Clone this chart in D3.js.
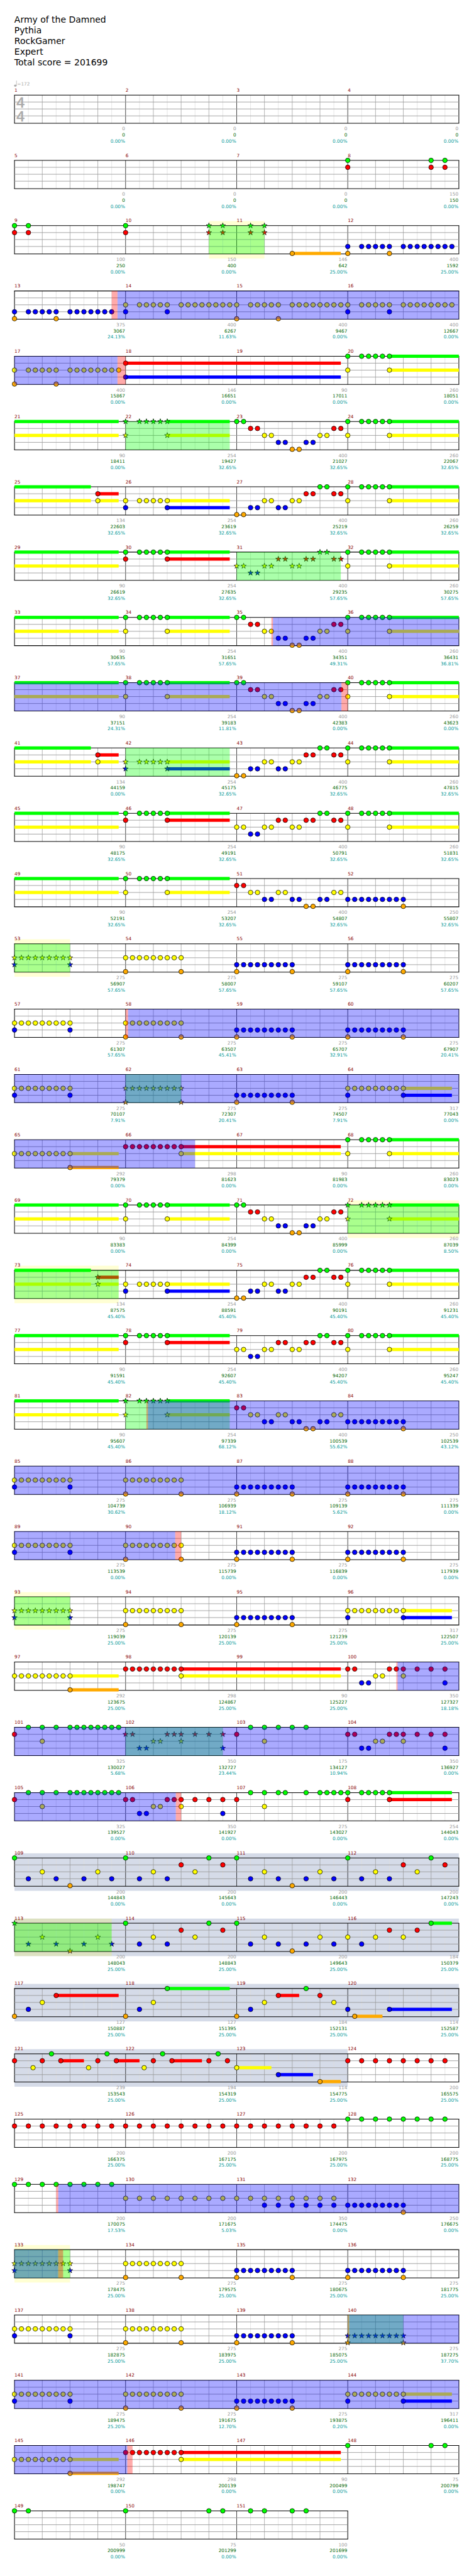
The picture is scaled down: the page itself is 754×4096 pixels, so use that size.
<!DOCTYPE html>
<html>
<head>
<meta charset="utf-8">
<script src="https://cdnjs.cloudflare.com/ajax/libs/d3/7.8.5/d3.min.js"></script>
<style>
html,body{margin:0;padding:0;background:#fff}
svg{display:block}
text{font-family:"DejaVu Sans",sans-serif}
</style>
</head>
<body>
<div id="chart"></div>
<script>
// ---------- text ----------
const titleLines = ["Army of the Damned","Pythia","RockGamer","Expert","Total score = 201699"];
const tempoLabel = "=172";
const timeSignature = ["4","4"];

// ---------- per-measure labels ----------
const measureScores = [
0,0,0,0, 0,0,0,150, 100,150,146,400, 375,400,400,400, 400,146,90,260, 90,254,400,260, 134,254,400,260, 90,254,400,260,
90,254,400,260, 90,254,400,260, 134,254,400,260, 90,254,400,260, 90,254,400,250, 275,275,275,275, 275,275,275,275,
275,275,275,317, 292,298,90,260, 90,254,400,260, 134,254,400,260, 90,254,400,260, 90,254,400,250, 275,275,275,275,
275,275,275,275, 275,275,275,317, 292,298,90,350, 325,350,175,350, 325,350,275,254, 200,200,200,200, 200,200,200,184,
127,127,184,114, 239,194,114,200, 200,200,200,200, 200,200,350,250, 275,275,275,275, 275,275,275,275, 275,275,275,317,
292,298,90,75, 50,75,100];
const cumulativeScores = [
0,0,0,0, 0,0,0,150, 250,400,642,1592, 3067,6267,9467,12667, 15867,16651,17011,18051, 18411,19427,21027,22067,
22603,23619,25219,26259, 26619,27635,29235,30275, 30635,31651,34351,36431, 37151,39183,42383,43623,
44159,45175,46775,47815, 48175,49191,50791,51831, 52191,53207,54807,55807, 56907,58007,59107,60207,
61307,63507,65707,67907, 70107,72307,74507,77043, 79379,81623,81983,83023, 83383,84399,85999,87039,
87575,88591,90191,91231, 91591,92607,94207,95247, 95607,97339,100539,102539, 104739,106939,109139,111339,
113539,115739,116839,117939, 119039,120139,121239,122507, 123675,124867,125227,127327, 130027,132727,134127,136927,
139527,141927,143027,144043, 144843,145643,146443,147243, 148043,148843,149643,150379, 150887,151395,152131,152587,
153543,154319,154775,165575, 166375,167175,167975,168775, 170075,171675,174475,176675, 178475,179575,180675,181775,
182875,183975,185075,187275, 189475,191675,193875,196411, 198747,200139,200499,200799, 200999,201299,201699];
const percentages = [
0,0,0,0, 0,0,0,0, 0,0,25,25, 24.13,11.63,0,0, 0,0,0,0, 0,32.65,32.65,32.65, 32.65,32.65,32.65,32.65,
32.65,32.65,57.65,57.65, 57.65,57.65,49.31,36.81, 24.31,11.81,0,0, 0,32.65,32.65,32.65, 32.65,32.65,32.65,32.65,
32.65,32.65,32.65,32.65, 57.65,57.65,57.65,57.65, 57.65,45.41,32.91,20.41, 7.91,20.41,7.91,0, 0,0,0,0, 0,0,0,8.5,
45.4,45.4,45.4,45.4, 45.4,45.4,45.4,45.4, 45.4,68.12,55.62,43.12, 30.62,18.12,5.62,0, 0,0,0,0, 25,25,25,25,
25,25,25,18.18, 5.68,23.44,10.94,0, 0,0,0,0, 0,0,0,0, 25,25,25,25, 25,25,25,25, 25,25,25,25, 25,25,25,25,
17.53,5.03,0,0, 25,25,25,25, 25,25,25,37.7, 25.2,12.7,0.2,0, 0,0,0,0, 0,0,0];

// ---------- riffs, written as "<sixteenth><lanes>[~<sustain end sixteenth>]" ----------
const hold31 = "0gy 2g 3g 4g 5g 6gy~31";
const hold27 = "0gy 2g 3g 4g 5g 6gy~27";
const hold15 = "0gy 2g 3g 4g 5g 6gy~15";
const redHold15 = "0gr 2g 3g 4g 5g 6gr~15";
const blueHold15 = "0yb 2y 3y 4y 5y 6yb~15";
const pickup = "12ry~15";
const riffDown = "0g 1g 2r 3r 4y 5y 6b 7b 8o 9o 10b 11b 12y 13y 14r 15r";
const riffUp = "0o 1o 2b 3b 4y 5y 6b 7b 8y 9y 10r 11r 12g 13g 14r 15r";
const riffHigh = "0y 1y 2b 3b 4y 5y 6r 7r 8y 9y 10r 11r 12g 13g 14r 15r";
const riffLow = "0r 1r 2y 3y 4b 5b 6y 7y 8b 9b 10o 11o 12b 13b 14y 15y";
const runBlueEnd = "0b 1b 2b 3b 4b 5b 6b 7b 8bo";
const runYB = "0yb 1y 2y 3y 4y 5y 6y 7y 8yb";
const runYO = "0yo 1y 2y 3y 4y 5y 6y 7y 8yo";
const runBO = "0bo 1b 2b 3b 4b 5b 6b 7b 8bo";
const runYBHold = "0yb 1y 2y 3y 4y 5y 6y 7y 8yb~15";
const runYOHold = "0y 1y 2y 3y 4y 5y 6y 7y 8yo~15";
const runRYHold = "0r 1r 2r 3r 4r 5r 6r 7r 8ry~31";
const bendRiff = "0r 1r 2b 3b 4y 5y 6r 7r 8ry 10r 12r 14rb";
const leadRun = "0r 2g 4gy 6g 8g 9g 10g 11g 12g 13g 14g 15g";
const soloA = "0g 2b 4y 6b 8o 10b 12y 14b";
const soloB = "0g 2b 4y 6b 8r 10y 12g 14r";
const redEighths = "0r 2r 4r 6r 8r 10r 12r 14r";
const greenEighths = "0g 2g 4g 6g 8g 10g 12g 14g";
const yellowEighths = "0y 2y 4y 6y 8y 10y 12y 14y";

const measureNotes = [
"","","","", "","","","0gr 12gr 14gr",
"0gr 2gr","0gr 12gr 14gr","2gr 4gr 8o~15","0bo 2b 3b 4b 5b 6bo 8b 9b 10b 11b 12b 13b 14b 15b",
"0bo 2b 3b 4b 5b 6bo 8b 9b 10b 11b 12b 13b 14b",
"0yb 2y 3y 4y 5y 6yb 8y 9y 10y 11y 12y 13y 14y 15y",
"0yo 2y 3y 4y 5y 6yo 8y 9y 10y 11y 12y 13y 14y 15y",
"0yb 2y 3y 4y 5y 6yb 8y 9y 10y 11y 12y 13y 14y 15y",
"0yo 2y 3y 4y 5y 6yo 8y 9y 10y 11y 12y 13y 14y 15y","0rb~31","",hold31,
"",hold15,riffDown,hold27,
pickup,blueHold15,riffUp,hold31,
"",redHold15,riffHigh,hold31,
"",hold15,riffDown,hold31,
"",hold15,riffDown,hold27,
pickup,blueHold15,riffUp,hold31,
"",redHold15,riffHigh,hold31,
"",hold15,riffLow,runBlueEnd,
runYB,runYO,runBO,runBO,
runYB,runYO,runBO,runBO,
runYB,runYO,runBO,runYBHold,
runYOHold,runRYHold,"",hold31,
"",hold15,riffDown,hold27,
pickup,blueHold15,riffUp,hold31,
"",redHold15,riffHigh,hold31,
"",hold15,riffLow,runBlueEnd,
runYB,runYO,runBO,runBO,
runYB,runYO,runBO,runBO,
runYB,runYO,runBO,runYBHold,
runYOHold,runRYHold,"",bendRiff,
leadRun,bendRiff,"0r 2g 4gy 6g 8g 10g",bendRiff,
leadRun,bendRiff,"0r 2g 4gy 6g 7g 10g 12g 13g 14g 15g",redHold15,
soloA,soloB,soloA,soloB,
soloA,soloB,soloA,"0y 2b 4y 6r 8y 10r 12g~15",
"0o 2b 4y 6r~15","0o 2b 4y 6g~15","0o 2b 4y 6r~9 10g 12r 14y","0b 1o~5 6b~15",
"0r 2.67y 4r 5.33g 6.67r~10 10.67y 12r 13.33g 14.67r~18","2.67y 4r 5.33g 6.67r~11 12r 13.33g 14.67r","0y~5 6b~11 12o~15",redEighths,
redEighths,redEighths,redEighths,greenEighths,
greenEighths,yellowEighths,"0y 2y 4yb 6yb 8yb 10yb 12yb 14yb",runBlueEnd,
runYB,runYO,runBO,runBO,
runYB,runYO,runBO,runBO,
runYB,runYO,runBO,runYBHold,
runYOHold,runRYHold,"","0g 12g 14g",
"0g 2g","0g 12g 14g","2g 4g 8g 10g"];

// ---------- highlighted spans: [measure, sixteenth, measure, sixteenth] ----------
const starPhrases = [[10,12,11,4],[22,0,22,15],[31,0,31,15],[42,0,42,15],[53,0,53,8],[62,0,62,8],[72,0,73,15],
[82,0,82,15],[93,0,93,8],[102,0,102,14],[113,0,113,14],[133,0,133,8],[140,0,140,8]];
const bandedPhrases = [[10,12,11,4],[53,0,53,8],[72,0,73,15],[93,0,93,8],[113,0,113,14],[133,0,133,8]];
const soloSections = [[109,0,124,0]];
const activeSpans = [[13,14.83,17,14.83],[35,5.22,39,15.09],[58,0.35,66,10],[82,3.22,90,7.15],[100,7.17,106,7.24],[129,6.3,133,6.3],[140,0.2,146,0.25]];
const activationMarks = [[13,14,13,14.83],[17,14.83,18,0],[35,5,35,5.22],[39,15.09,40,0],[58,0,58,0.35],[82,3,82,3.22],[90,7.15,90,8],
[100,7,100,7.17],[106,7.24,106,8],[129,6,129,6.3],[133,6.3,133,7],[140,0,140,0.2],[146,0.25,146,1]];

// ---------- lookups ----------
const laneOrder = ["g","r","y","b","o"];
const laneColors = ["#00ff00","#ff0000","#ffff00","#0000ff","#ffaa00"];

// ---------- layout (reference pixels; the viewBox applies the 0.736 scale) ----------
const PER_MEASURE = 16, PER_ROW = 64, ROWS = 38;
const x = d3.scaleLinear().domain([0, PER_ROW]).range([31.3, 991.3]);
const rowY = d3.scaleLinear().domain([0, ROWS - 1]).range([205.3, 5422.3]);
const laneY = d3.scaleOrdinal().domain(laneOrder).range(d3.range(5).map(i => i * 15));
const laneColor = d3.scaleOrdinal().domain(laneOrder).range(laneColors);
const staffH = 61, stringOffsets = [15, 30, 45];

const tick = (m, t) => (m - 1) * PER_MEASURE + t;
const rowSegments = (a, b) => {
  const out = [];
  for (let r = Math.floor(a / PER_ROW); r * PER_ROW < b; r++) {
    const lo = Math.max(a, r * PER_ROW) - r * PER_ROW, hi = Math.min(b, (r + 1) * PER_ROW) - r * PER_ROW;
    if (hi > lo) out.push({ row: r, lo, hi });
  }
  return out;
};
const spanSegments = spans => spans.flatMap(s => rowSegments(tick(s[0], s[1]), tick(s[2], s[3])));

const starRanges = starPhrases.map(s => [tick(s[0], s[1]), tick(s[2], s[3])]);
const isStar = t => starRanges.some(r => t >= r[0] - 1e-6 && t <= r[1] + 1e-6);

const notes = [], sustains = [];
measureNotes.forEach((str, mi) => {
  str.split(" ").filter(Boolean).forEach(tok => {
    const mt = tok.match(/^([\d.]+)([gryob]+)(?:~([\d.]+))?$/);
    const t = +mt[1], abs = tick(mi + 1, t);
    mt[2].split("").forEach(lane => {
      notes.push({ abs, lane, star: isStar(abs) });
      if (mt[3]) rowSegments(abs, tick(mi + 1, +mt[3])).forEach(s => sustains.push({ ...s, lane }));
    });
  });
});

// ---------- drawing ----------
const svg = d3.select("#chart").append("svg")
  .attr("width", 754).attr("height", 4096).attr("viewBox", "0 0 1024 5563");

svg.selectAll("text.title").data(titleLines).join("text").attr("class", "title")
  .attr("x", 31).attr("y", (d, i) => 49 + i * 23).attr("font-size", 19).attr("fill", "#000").text(d => d);

// tempo mark
const tempo = svg.append("g").attr("fill", "#aaa");
tempo.append("ellipse").attr("cx", 33).attr("cy", 185).attr("rx", 2.6).attr("ry", 2.2);
tempo.append("rect").attr("x", 35).attr("y", 174).attr("width", 1).attr("height", 11);
tempo.append("text").attr("x", 37).attr("y", 185).attr("font-size", 10).text(tempoLabel);

const bg = svg.append("g"), grid = svg.append("g"), hold = svg.append("g"), marks = svg.append("g"),
      over = svg.append("g"), labels = svg.append("g");

// background bands
bg.selectAll("rect.solo").data(spanSegments(soloSections)).join("rect").attr("class", "solo")
  .attr("x", d => x(d.lo)).attr("width", d => x(d.hi) - x(d.lo))
  .attr("y", d => rowY(d.row) - 10).attr("height", staffH + 20).attr("fill", "#d5dbe8");
bg.selectAll("rect.band").data(spanSegments(bandedPhrases)).join("rect").attr("class", "band")
  .attr("x", d => x(d.lo)).attr("width", d => x(d.hi) - x(d.lo))
  .attr("y", d => rowY(d.row) - 10).attr("height", staffH + 20).attr("fill", "#ffff00").attr("fill-opacity", 0.17);

// staves
const measureCount = measureNotes.length;
const rows = d3.range(ROWS).map(r => ({ r, measures: Math.min(4, measureCount - r * 4) }));
rows.forEach(({ r, measures }) => {
  const g = grid.append("g").attr("transform", `translate(0,${rowY(r)})`);
  const last = measures * PER_MEASURE;
  const verticals = d3.range(0, last + 1, 2);
  g.selectAll("line.v").data(verticals).join("line").attr("class", "v")
    .attr("x1", x).attr("x2", x).attr("y1", 0).attr("y2", staffH)
    .attr("stroke", d => d % 16 === 0 ? "#000" : d % 4 === 0 ? "#999" : "#ddd")
    .attr("stroke-width", d => d === 0 || d === last ? 1.4 : 1);
  g.selectAll("line.h").data(stringOffsets).join("line").attr("class", "h")
    .attr("x1", x(0)).attr("x2", x(last)).attr("y1", d => d).attr("y2", d => d)
    .attr("stroke", "#999").attr("stroke-width", 1.2);
  g.selectAll("line.b").data([0, staffH]).join("line").attr("class", "b")
    .attr("x1", x(0) - 0.7).attr("x2", x(last) + 0.7).attr("y1", d => d).attr("y2", d => d)
    .attr("stroke", "#000").attr("stroke-width", 1.4);
});

// time signature
grid.selectAll("text.sig").data(timeSignature).join("text").attr("class", "sig")
  .attr("x", 44.5).attr("y", (d, i) => 232 + i * 30.5).attr("text-anchor", "middle")
  .attr("font-size", 30).attr("fill", "#aaa").attr("stroke", "#aaa").attr("stroke-width", 0.8).text(d => d);

// sustains
hold.selectAll("rect").data(sustains).join("rect")
  .attr("x", d => x(d.lo)).attr("width", d => x(d.hi) - x(d.lo))
  .attr("y", d => rowY(d.row) + laneY(d.lane) - 3.5).attr("height", 7)
  .attr("fill", d => laneColor(d.lane));

// notes
const noteX = d => x(d.abs % PER_ROW);
const noteY = d => rowY(Math.floor(d.abs / PER_ROW)) + laneY(d.lane);
marks.selectAll("circle").data(notes.filter(d => !d.star)).join("circle")
  .attr("cx", noteX).attr("cy", noteY).attr("r", 5).attr("fill", d => laneColor(d.lane))
  .attr("stroke", "#000").attr("stroke-width", 1);
const star = d3.symbol().type(d3.symbolStar).size(42);
marks.selectAll("path").data(notes.filter(d => d.star)).join("path")
  .attr("d", star).attr("transform", d => `translate(${noteX(d)},${noteY(d)})`)
  .attr("fill", d => laneColor(d.lane)).attr("stroke", "#000").attr("stroke-width", 0.9);

// translucent overlays
const overlay = (segs, color) => over.append("g").selectAll("rect").data(segs).join("rect")
  .attr("x", d => x(d.lo)).attr("width", d => x(d.hi) - x(d.lo))
  .attr("y", d => rowY(d.row)).attr("height", staffH).attr("fill", color).attr("fill-opacity", 1 / 3);
overlay(spanSegments(starPhrases), "#00ff00");
overlay(spanSegments(activeSpans), "#0000ff");
overlay(spanSegments(activationMarks), "#ff0000");

// labels
const mRow = i => Math.floor(i / 4), mCol = i => i % 4;
labels.selectAll("text.num").data(measureNotes).join("text").attr("class", "num")
  .attr("x", (d, i) => x(mCol(i) * PER_MEASURE)).attr("y", (d, i) => rowY(mRow(i)) - 7.3)
  .attr("font-size", 10).attr("fill", "#880000").text((d, i) => i + 1);
const labelRow = (values, dy, color, fmt) => labels.append("g").attr("fill", color).attr("text-anchor", "end")
  .selectAll("text").data(values).join("text")
  .attr("x", (d, i) => x((mCol(i) + 1) * PER_MEASURE) - 1).attr("y", (d, i) => rowY(mRow(i)) + dy)
  .attr("font-size", 10).text(fmt);
labelRow(measureScores, 76.5, "#999999", d => d);
labelRow(cumulativeScores, 89.7, "#006600", d => d);
labelRow(percentages, 103, "#009999", d => d.toFixed(2) + "%");
</script>
</body>
</html>
